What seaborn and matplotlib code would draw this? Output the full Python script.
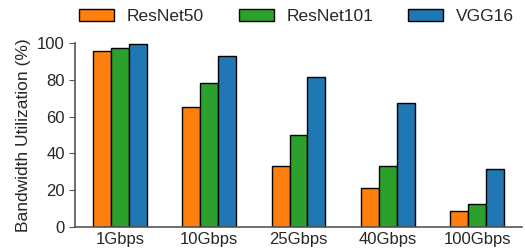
import pandas as pd
import matplotlib
matplotlib.use("Agg")
import matplotlib.pyplot as plt
import seaborn as sns

# data
bandwidths = ["1Gbps", "10Gbps", "25Gbps", "40Gbps", "100Gbps"]
models = ["ResNet50", "ResNet101", "VGG16"]
resnet50 = [95.6, 65.4, 33.0, 21.4, 8.5]
resnet101 = [97.0, 78.3, 50.0, 33.4, 12.3]
vgg16 = [99.3, 92.6, 81.2, 67.4, 31.7]
colors = ["#ff7f0e", "#2ca02c", "#1f77b4"]

df = pd.DataFrame({
    "Bandwidth": bandwidths * 3,
    "Model": [m for m in models for _ in bandwidths],
    "Util": resnet50 + resnet101 + vgg16,
})

sns.set_style("ticks")
plt.rcParams["font.family"] = ["Liberation Sans", "DejaVu Sans"]

fig = plt.figure(figsize=(5.25, 2.52), dpi=100)
ax = fig.add_axes([0.143, 0.099, 0.851, 0.731])
sns.barplot(data=df, x="Bandwidth", y="Util", hue="Model", order=bandwidths,
            hue_order=models, palette=colors, saturation=1, width=0.6,
            edgecolor="black", linewidth=1, ax=ax)

ax.set_ylim(0, 100)
ax.set_xlim(-0.5, 4.5)
ax.set_yticks([0, 20, 40, 60, 80, 100])
ax.set_xlabel("")
ax.set_ylabel("Bandwidth Utilization (%)", fontsize=12.5)
ax.tick_params(axis="both", labelsize=12, length=4, color="#555555")
ax.tick_params(axis="x", length=0)
for s in ["top", "right"]:
    ax.spines[s].set_visible(False)
for s in ["left", "bottom"]:
    ax.spines[s].set_color("#555555")
    ax.spines[s].set_linewidth(1.2)

handles, labels = ax.get_legend_handles_labels()
ax.get_legend().remove()
fig.legend(handles, labels, loc="upper center", bbox_to_anchor=(0.565, 1.025),
           ncol=3, frameon=False, fontsize=12.5, handlelength=2.0,
           handleheight=0.7, handletextpad=0.75, columnspacing=2.0)

fig.savefig("out.png", dpi=100)
